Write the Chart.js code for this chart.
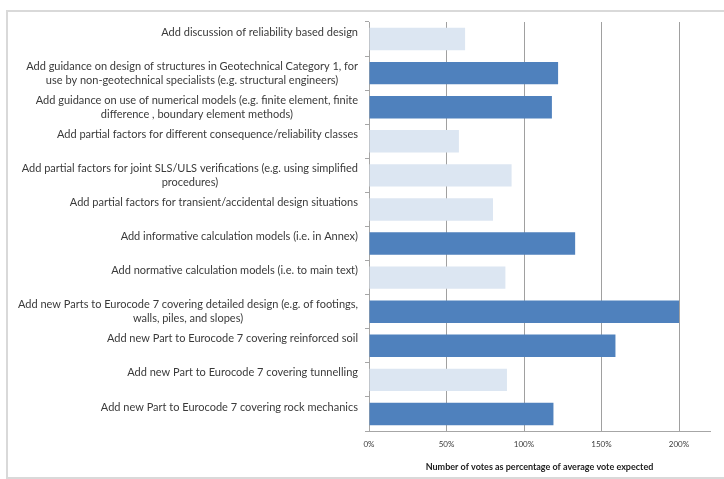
<!DOCTYPE html>
<html>
<head>
<meta charset="utf-8">
<script src="https://cdn.jsdelivr.net/npm/chart.js@4.4.1/dist/chart.umd.min.js"></script>
<style>
  html, body { margin: 0; padding: 0; background: #ffffff; }
  #wrap { width: 724px; height: 479px; position: relative; }
</style>
</head>
<body>
<div id="wrap"><canvas id="c" width="724" height="479"></canvas></div>
<script>
// Survey proposals (each entry is one label; long ones are wrapped)
const categories = [
  ["Add discussion of reliability based design"],
  ["Add guidance on design of structures in Geotechnical Category 1, for", "use by non-geotechnical specialists (e.g. structural engineers)"],
  ["Add guidance on use of numerical models (e.g. finite element, finite", "difference , boundary element methods)"],
  ["Add partial factors for different consequence/reliability classes"],
  ["Add partial factors for joint SLS/ULS verifications (e.g. using simplified", "procedures)"],
  ["Add partial factors for transient/accidental design situations"],
  ["Add informative calculation models (i.e. in Annex)"],
  ["Add normative calculation models (i.e. to main text)"],
  ["Add new Parts to Eurocode 7 covering detailed design (e.g. of footings,", "walls, piles, and slopes)"],
  ["Add new Part to Eurocode 7 covering reinforced soil"],
  ["Add new Part to Eurocode 7 covering tunnelling"],
  ["Add new Part to Eurocode 7 covering rock mechanics"]
];

// Votes as percentage of the average vote expected
const votePercent = [62, 122, 118, 58, 92, 80, 133, 88, 200, 159, 89, 119];

// Value-axis tick labels
const xTicks = [0, 50, 100, 150, 200];
const xTickLabels = ["0%", "50%", "100%", "150%", "200%"];

const xTitle = "Number of votes as percentage of average vote expected";

const DARK = "#4F81BD";
const LIGHT = "#DCE6F2";
const TEXT = "#3A3A3A";
const LABEL_FONT = "Lato";
const LABEL_SIZE = 11;
const LABEL_LINE = 14;

// Light grey frame around the whole chart
const framePlugin = {
  id: "frame",
  beforeDraw(chart) {
    const ctx = chart.ctx;
    ctx.save();
    ctx.fillStyle = "#ffffff";
    ctx.fillRect(0, 0, chart.width, chart.height);
    ctx.strokeStyle = "#D9D9D9";
    ctx.lineWidth = 2;
    ctx.strokeRect(7, 11, chart.width + 20, chart.height - 12);
    ctx.restore();
  }
};

// Category labels: each block centred on its own widest line, right edge
// fixed near the axis, laid out on two text lines per category
const labelPlugin = {
  id: "catLabels",
  afterDraw(chart) {
    const ctx = chart.ctx;
    const y = chart.scales.y;
    const right = chart.chartArea.left - 11;
    ctx.save();
    ctx.font = LABEL_SIZE + "px " + LABEL_FONT;
    ctx.fillStyle = TEXT;
    ctx.textAlign = "center";
    ctx.textBaseline = "middle";
    chart.data.labels.forEach((lines, i) => {
      const yc = y.getPixelForValue(i);
      const w = Math.max(...lines.map(l => ctx.measureText(l).width));
      const cx = right - w / 2;
      const slots = 2;
      lines.forEach((l, j) => {
        ctx.fillText(l, cx, yc + (j - (slots - 1) / 2) * LABEL_LINE);
      });
    });
    ctx.restore();
  }
};

new Chart(document.getElementById("c"), {
  type: "bar",
  data: {
    labels: categories,
    datasets: [{
      data: votePercent,
      backgroundColor: c => (c.raw > 100 ? DARK : LIGHT),
      borderWidth: 0,
      categoryPercentage: 1,
      barPercentage: 0.66
    }]
  },
  options: {
    indexAxis: "y",
    responsive: false,
    animation: false,
    devicePixelRatio: 1,
    layout: { padding: { left: 0, right: 14, top: 22, bottom: 0 } },
    plugins: { legend: { display: false }, tooltip: { enabled: false } },
    scales: {
      x: {
        type: "linear",
        min: 0,
        max: 220,
        afterBuildTicks: s => { s.ticks = xTicks.map(v => ({ value: v })); },
        afterFit: s => { s.height = 48; },
        ticks: {
          callback: (v) => xTickLabels[xTicks.indexOf(v)],
          color: TEXT,
          font: { family: LABEL_FONT, size: 8 },
          padding: 9,
          maxRotation: 0
        },
        grid: { color: "#A0A0A0", drawTicks: false, lineWidth: 1 },
        border: { display: true, color: "#A6A6A6" },
        title: {
          display: true,
          text: xTitle,
          color: "#202020",
          font: { family: LABEL_FONT, size: 9, weight: "bold" },
          padding: { top: 0, bottom: 7 }
        }
      },
      y: {
        type: "category",
        afterFit: s => { s.width = 369; },
        ticks: { display: false },
        grid: {
          drawOnChartArea: false,
          drawTicks: true,
          tickLength: 4,
          color: "#A6A6A6",
          offset: true
        },
        border: { display: true, color: "#A6A6A6" }
      }
    }
  },
  plugins: [framePlugin, labelPlugin]
});
</script>
</body>
</html>
